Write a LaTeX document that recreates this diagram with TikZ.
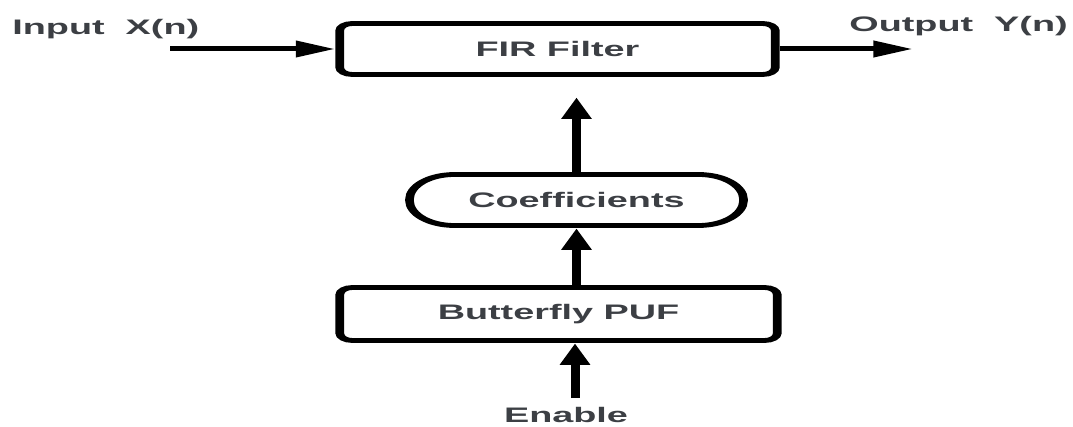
\documentclass[tikz,border=0pt]{standalone}
\usepackage{fontspec}
\setmainfont{Liberation Sans}
\usetikzlibrary{arrows.meta}
\definecolor{labelgray}{RGB}{60,63,68}
\begin{document}
\begin{tikzpicture}[x=1pt,y=-1pt]
\useasboundingbox (0,0) rectangle (1073,427);
% the whole drawing is set in a horizontally widened canvas
\begin{scope}[x=0.55556pt, transform canvas={xscale=1.8},
  every node/.style={font=\fontsize{21}{25}\selectfont\bfseries, text=labelgray},
  block/.style={draw=black, line width=4.8pt, rounded corners=7pt, inner sep=0pt,
                minimum width=#1, minimum height=51pt},
  caption/.style={inner sep=0pt},
  conn/.style={draw=black, line width=5pt, -{Triangle[length=22pt,width=15.5pt]}}]

  % processing blocks
  \node[block=242pt] (fir) at (557.5,49) {FIR Filter};
  \node[block=185.6pt, rounded corners=25pt] (coef) at (576.5,200) {Coefficients};
  \node[block=243pt, minimum height=53pt] (puf) at (558.5,314) {Butterfly PUF};

  % signal names
  \node[caption, anchor=base west] (xlab) at (12,35) {Input~~X(n)};
  \node[caption, anchor=base west] (ylab) at (849,32) {Output~~Y(n)};
  \node[caption, anchor=base] (en) at (566,422) {Enable};

  % free ends of the connectors
  \coordinate (xin) at (170,49);
  \coordinate (yout) at (913,49);
  \coordinate (firtap) at (576.5,97);
  \coordinate (entail) at (575,398);

  % connectors
  \draw[conn] (xin) -- (xin -| fir.west);
  \draw[conn] (fir.east) -- (yout);
  \draw[conn] (coef.north) -- (firtap);
  \draw[conn] (coef.south |- puf.north) -- (coef.south);
  \draw[conn] (entail) -- (entail |- puf.south);
\end{scope}
\end{tikzpicture}
\end{document}
